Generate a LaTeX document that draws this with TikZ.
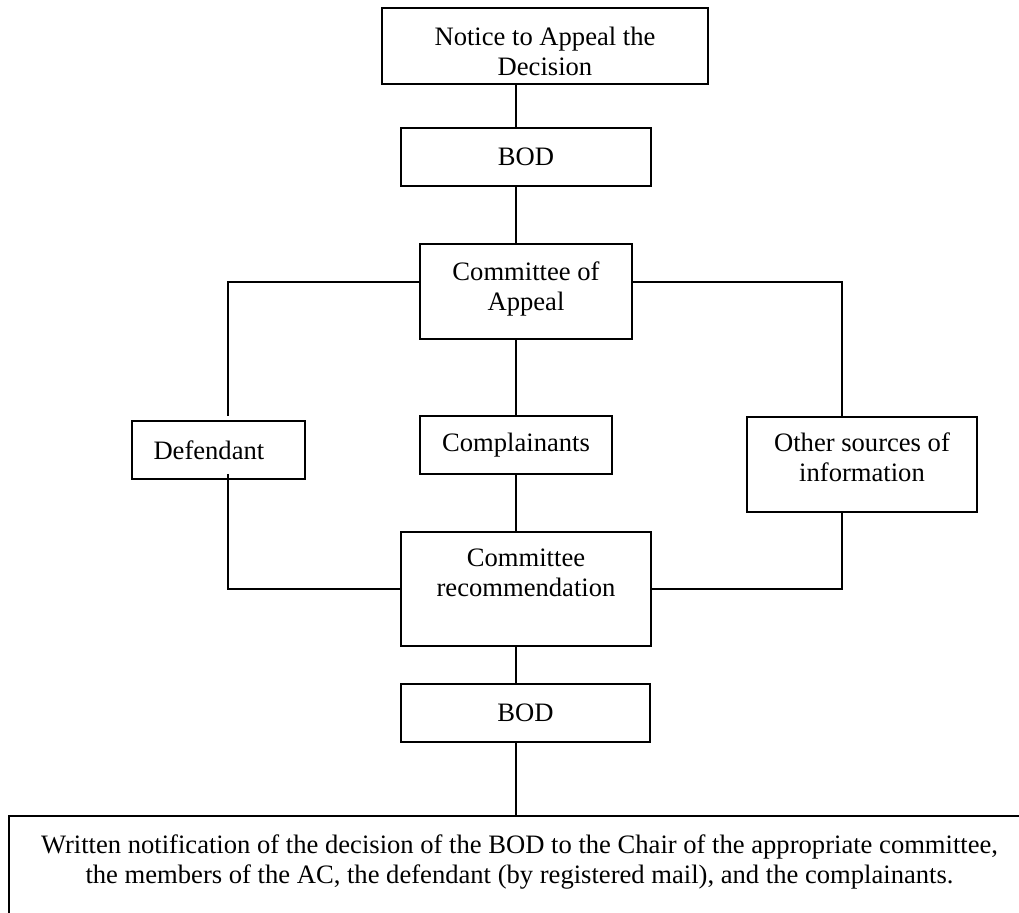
\documentclass[tikz,border=0pt]{standalone}
\usepackage{fontspec}
\setmainfont{Liberation Serif}

\begin{document}
\begin{tikzpicture}[
    x=0.5pt, y=-0.5pt,
    box/.style={draw, align=center, inner sep=0pt, font=\fontsize{13.3}{15}\selectfont},
]
    \useasboundingbox (0, 0) rectangle (1019, 913);
    \clip (0, 0) rectangle (1019, 913);
    \begin{scope}[
        every path/.style={line width=1pt},
    ]
        \coordinate (T) at (516, 0);
        \coordinate (L) at (228, 282);
        \coordinate (R) at (842, 282);

        \node[box, minimum width=163pt, minimum height=38pt, text height=29.1pt, text depth=0pt] (NA) at (545, 46) {Notice to Appeal the\\Decision};
        \node[box, minimum width=125pt, minimum height=29pt] (BOD1) at (526, 157) {BOD};
        \node[box, minimum width=106pt, minimum height=47.5pt, text depth=5.5pt] (CA) at (526, 291.5) {Committee of\\Appeal};

        \node[box, minimum width=86.5pt, minimum height=29pt, text width=65pt, align=left] (Def) at (218.5, 450) {Defendant};
        \node[box, minimum width=96pt, minimum height=29pt] (Comp) at (516, 445) {Complainants};
        \node[box, minimum width=115pt, minimum height=47.5pt, text depth=7pt] (Oth) at (862, 464.5) {Other sources of\\information};

        \node[box, minimum width=125pt, minimum height=57pt, text depth=16pt] (CR) at (526, 589) {Committee\\recommendation};
        \node[box, minimum width=124.5pt, minimum height=29pt] (BOD2) at (525.5, 713) {BOD};
        \node[box, minimum width=510.5pt, minimum height=62pt, text depth=19pt] (WN) at (519.5, 878) {Written notification of the decision of the BOD to the Chair of the appropriate committee,\\the members of the AC, the defendant (by registered mail), and the complainants.};

        \draw (NA.south -| T) -- (BOD1.north -| T);
        \draw (BOD1.south -| T) -- (CA.north -| T);
        \draw (CA.south -| Comp) -- (Comp.north);
        \draw (Comp.south) -- (Comp.south |- CR.north);
        \draw (CR.south -| T) -- (BOD2.north -| T);
        \draw (BOD2.south -| T) -- (WN.north -| T);

        \draw (CA.west |- L) -- (L) -- ([yshift=2pt]L |- Def.north);
        \draw (CA.east |- R) -- (R) -- (R |- Oth.north);
        \draw ([yshift=3pt]Def.south -| L) |- (CR.west);
        \draw (Oth.south -| R) |- (CR.east);
    \end{scope}
\end{tikzpicture}
\end{document}
